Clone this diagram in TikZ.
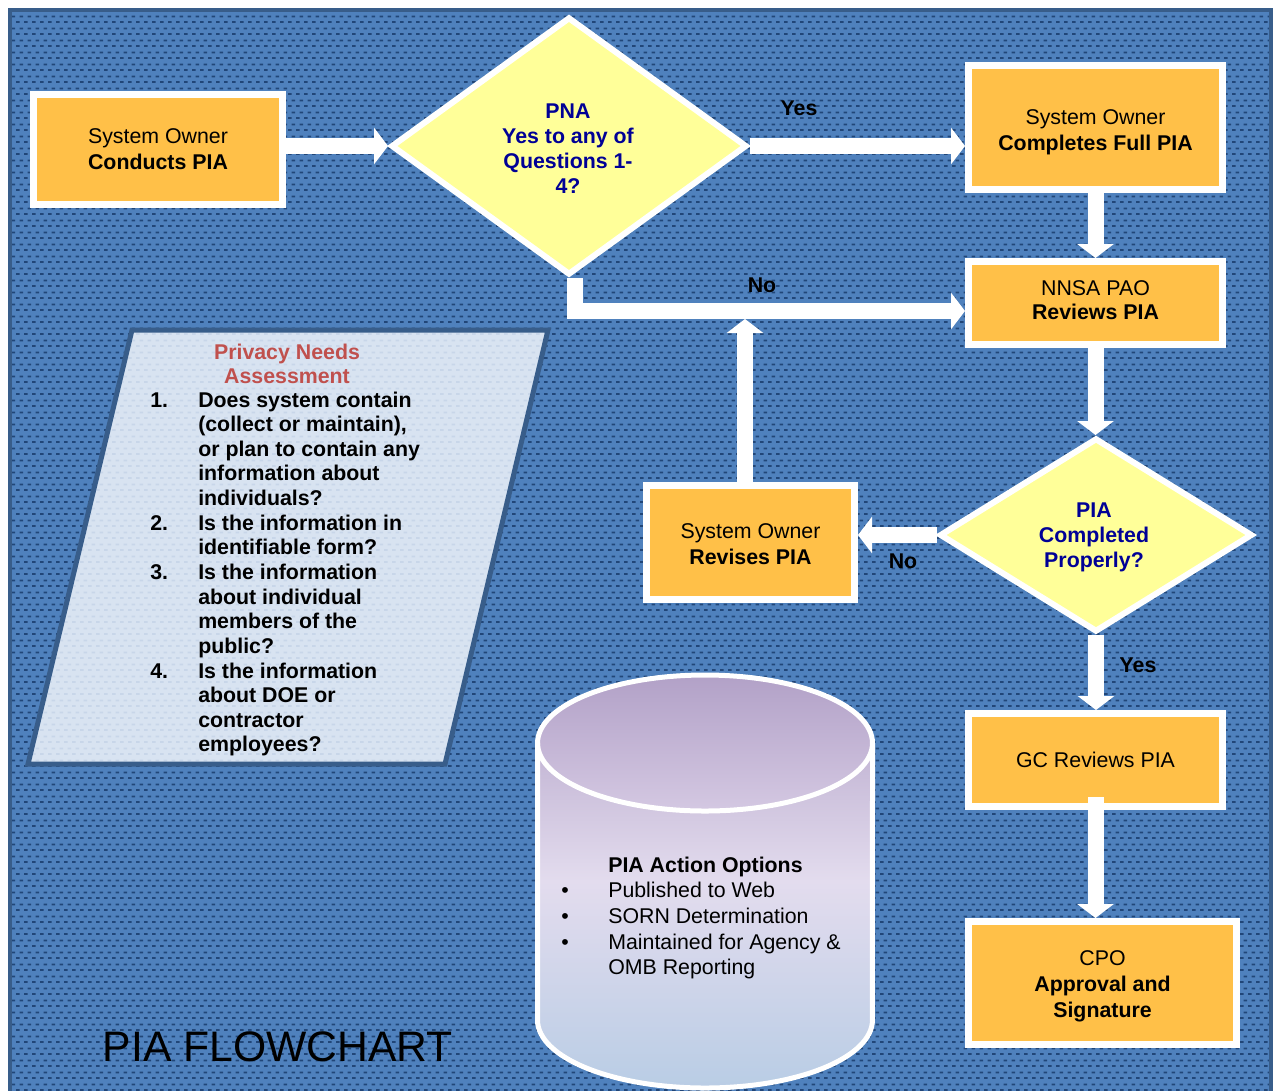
\documentclass[tikz,border=0pt]{standalone}
\usepackage{fontspec}
\setmainfont{Liberation Sans}
\usetikzlibrary{arrows.meta,shapes.geometric,patterns.meta}
\definecolor{bgblue}{RGB}{79,129,189}
\definecolor{dashblue}{RGB}{33,70,120}
\definecolor{frameblue}{RGB}{56,93,138}
\definecolor{boxorange}{RGB}{255,192,72}
\definecolor{diayellow}{RGB}{255,255,153}
\definecolor{qblue}{RGB}{0,0,150}
\definecolor{pnafill}{RGB}{216,227,241}
\definecolor{pnadash}{RGB}{200,214,233}
\definecolor{pnared}{RGB}{192,80,77}
\definecolor{cyltop}{RGB}{178,161,199}
\definecolor{cylmid}{RGB}{227,220,238}
\definecolor{cylbot}{RGB}{185,205,229}
\definecolor{elltop}{RGB}{178,161,199}
\definecolor{ellbot}{RGB}{212,200,226}
\tikzdeclarepattern{
  name=bgdash,
  type=uncolored,
  bounding box={(0pt,0pt) and (6pt,9pt)},
  tile size={(6pt,9pt)},
  code={
    \fill (0pt,0pt) rectangle (3pt,1.5pt);
    \fill (3pt,4.5pt) rectangle (6pt,6pt);
  }
}
\tikzset{
  box/.style={rectangle, fill=boxorange, draw=white, line width=5.25pt, inner sep=0pt},
  btext/.style={align=center, inner sep=0pt, text=black, font=\fontsize{16}{19.5}\selectfont},
  dia/.style={diamond, fill=diayellow, draw=white, line width=4.5pt, inner sep=0pt},
  qtext/.style={align=center, text=qblue, font=\fontsize{16}{18.75}\selectfont\bfseries},
  arr/.style={draw=white, line width=12pt, -{Triangle[width=27pt,length=10.5pt]}},
  lbl/.style={font=\fontsize{16}{19.5}\selectfont\bfseries, text=black, inner sep=0pt},
}
\begin{document}
\begin{tikzpicture}[x=0.75pt,y=-0.75pt]
\useasboundingbox (0,0) rectangle (1273,1090);
\clip (0,0) rectangle (1273,1090);
\fill[white] (0,0) rectangle (1273,1090);
% background panel
\fill[bgblue] (10,10) rectangle (1271,1100);
\fill[pattern=bgdash, pattern color=dashblue] (10,10) rectangle (1271,1100);
\draw[frameblue, line width=3pt] (10,10) rectangle (1271,1100);

% privacy needs assessment parallelogram
\coordinate (p1) at (132,330);
\coordinate (p2) at (548,330);
\coordinate (p3) at (445,764);
\coordinate (p4) at (28,764);
\fill[pnafill] (p1) -- (p2) -- (p3) -- (p4) -- cycle;
\fill[pattern=bgdash, pattern color=pnadash] (p1) -- (p2) -- (p3) -- (p4) -- cycle;
\draw[frameblue, line width=3.75pt, line join=miter] (p1) -- (p2) -- (p3) -- (p4) -- cycle;
\node[align=center, text=pnared, font=\fontsize{16}{18}\selectfont\bfseries] (pnatitle) at (287,364) {Privacy Needs\\Assessment};
\node[anchor=base west, inner sep=0pt, font=\fontsize{16}{18.48}\selectfont\bfseries] (pnalist) at (150,407) {%
\begin{tabular}[t]{@{}p{36pt}@{}l@{}}
1. & Does system contain\\
   & (collect or maintain),\\
   & or plan to contain any\\
   & information about\\
   & individuals?\\
2. & Is the information in\\
   & identifiable form?\\
3. & Is the information\\
   & about individual\\
   & members of the\\
   & public?\\
4. & Is the information\\
   & about DOE or\\
   & contractor\\
   & employees?
\end{tabular}};

% cylinder
\shade[top color=cyltop, bottom color=cylbot, middle color=cylmid]
  (537.5,743) -- (537.5,1020) arc[start angle=180, end angle=360, x radius=125.6pt, y radius=51pt]
  -- (872.5,743) arc[start angle=0, end angle=180, x radius=125.6pt, y radius=51pt] -- cycle;
\shade[top color=elltop, bottom color=ellbot] (705,743) ellipse [x radius=125.6pt, y radius=51pt];
\draw[white, line width=3.75pt]
  (537.5,743) -- (537.5,1020) arc[start angle=180, end angle=360, x radius=125.6pt, y radius=51pt]
  -- (872.5,743);
\draw[white, line width=3.75pt] (705,743) ellipse [x radius=125.6pt, y radius=51pt];
\node[anchor=base west, inner sep=0pt, font=\fontsize{16}{19.3}\selectfont] (opts) at (561,872) {%
\begin{tabular}[t]{@{}p{35.25pt}@{}l@{}}
 & \textbf{PIA Action Options}\\
\textbullet & Published to Web\\
\textbullet & SORN Determination\\
\textbullet & Maintained for Agency \&\\
 & OMB Reporting
\end{tabular}};

% boxes
\node[box, minimum width=186.75pt, minimum height=82.5pt] (B1) at (158,149.5) {};
\node[btext] (B1t) at (158,149.5) {System Owner\\\textbf{Conducts PIA}};
\node[box, minimum width=190.5pt, minimum height=93pt] (B3) at (1095.5,127.5) {};
\node[btext] (B3t) at (1095.5,132.5) {System Owner\\\textbf{Completes Full PIA}};
\node[box, minimum width=190.5pt, minimum height=62.25pt] (B4) at (1095.5,303) {};
\node[btext, font=\fontsize{16}{18}\selectfont] (B4t) at (1095.5,300) {NNSA PAO\\\textbf{Reviews PIA}};
\node[box, minimum width=156pt, minimum height=85.5pt] (B5) at (750.5,542.5) {};
\node[btext] (B5t) at (750.5,544) {System Owner\\\textbf{Revises PIA}};
\node[box, minimum width=190.5pt, minimum height=69.75pt] (B6) at (1095.5,760) {};
\node[btext] (B6t) at (1095.5,760) {GC Reviews PIA};
\node[box, minimum width=201pt, minimum height=92.25pt] (B7) at (1102.5,983) {};
\node[btext] (B7t) at (1102.5,986.5) {CPO\\\textbf{Approval and}\\\textbf{Signature}};

% diamonds
\node[dia, minimum width=267pt, minimum height=193.5pt] (D1) at (569,146) {};
\node[qtext] (D1t) at (568,148.5) {PNA\\Yes to any of\\Questions 1-\\4?};
\node[dia, minimum width=234.75pt, minimum height=145.5pt] (D2) at (1096,535) {};
\node[qtext] (D2t) at (1094,537) {PIA\\Completed\\Properly?};

% connectors
\coordinate (nojoin) at (745,319);
\draw[arr] (B1.east |- D1.west) -- (D1.west);
\draw[arr] (D1.east) -- (D1.east -| B3.west);
\draw[arr] (B3.south) -- (B4.north);
\draw[arr] ([xshift=4.5pt]D1.south) |- ([yshift=-6pt]B4.west);
\draw[arr] (B5.north -| nojoin) -- (nojoin);
\draw[arr] (B4.south) -- (B4.south |- D2.north);
\draw[arr] (D2.west) -- (D2.west -| B5.east);
\draw[arr] (D2.south) -- (D2.south |- B6.north);
\draw[arr] ([yshift=9.75pt]B6.south) -- (B6.south |- B7.north);

% labels
\node[lbl] (yes1) at (799,108) {Yes};
\node[lbl] (no1) at (762,285) {No};
\node[lbl] (no2) at (903,561) {No};
\node[lbl] (yes2) at (1138,665) {Yes};

\node[font=\fontsize{32}{38}\selectfont, inner sep=0pt] (title) at (278,1047) {PIA FLOWCHART};
\end{tikzpicture}
\end{document}
